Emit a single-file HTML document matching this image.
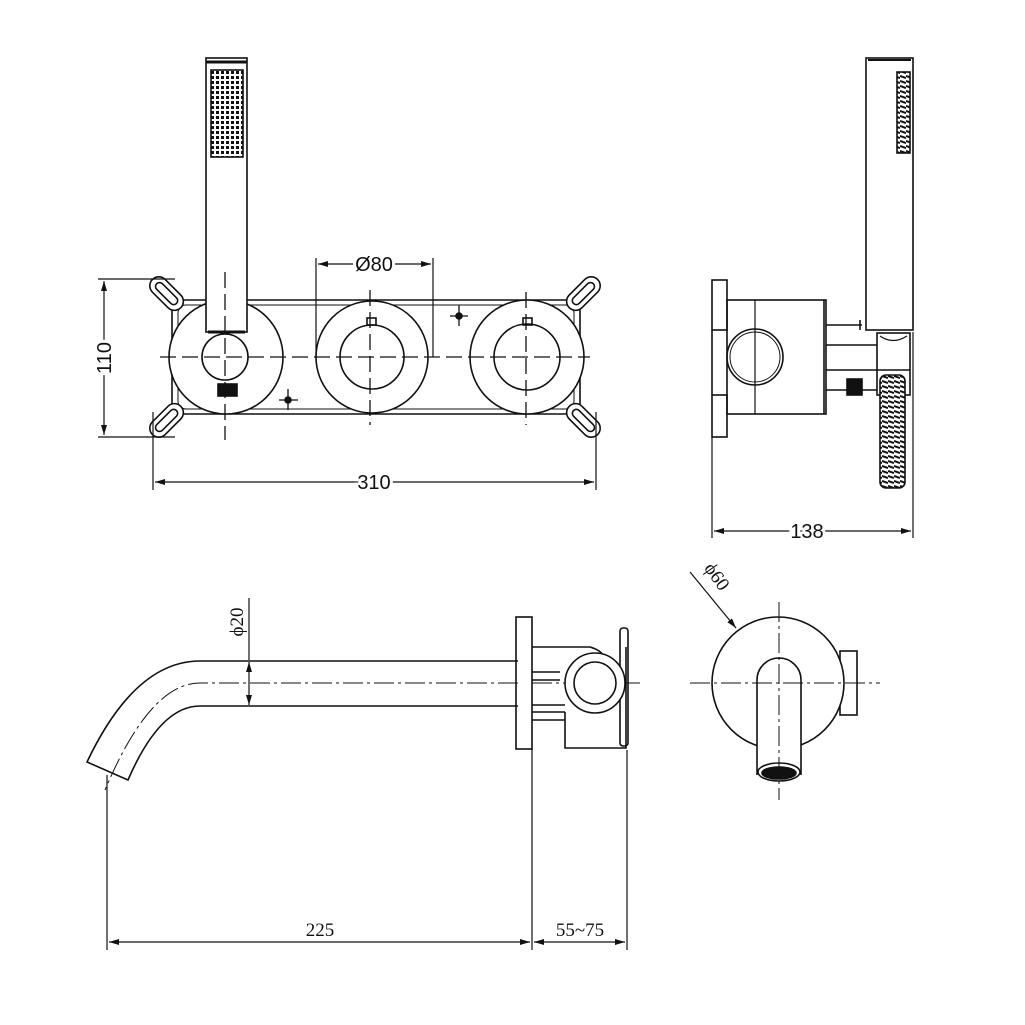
<!DOCTYPE html><html><head><style>body{margin:0;background:#fff}svg{display:block}</style></head><body>
<svg width="1025" height="1025" viewBox="0 0 1025 1025" xmlns="http://www.w3.org/2000/svg">
<defs>
<marker id="a" markerWidth="10" markerHeight="6" refX="10" refY="3" orient="auto-start-reverse" markerUnits="userSpaceOnUse"><path d="M0,0L10,3L0,6z" fill="#111"/></marker>
<pattern id="g" width="5" height="5" patternUnits="userSpaceOnUse"><rect width="5" height="5" fill="#fff"/><rect x="1" y="1" width="3" height="3" fill="#111"/></pattern>
<pattern id="c" width="6" height="5" patternUnits="userSpaceOnUse"><rect width="6" height="5" fill="#fff"/><path d="M0,1L6,3" stroke="#111" stroke-width="2"/></pattern>
</defs>
<g fill="none" stroke="#111" stroke-width="1.6">
<rect x="172" y="300" width="408" height="114" rx="10"/>
<rect x="178" y="305" width="396" height="104" rx="8" stroke-width="1"/>
<g fill="#fff">
<g transform="translate(168,295) rotate(45)"><rect x="-22" y="-9" width="40" height="18" rx="9"/><rect x="-16" y="-4" width="28" height="8" rx="4"/></g>
<g transform="translate(582,295) rotate(-45)"><rect x="-18" y="-9" width="40" height="18" rx="9"/><rect x="-12" y="-4" width="28" height="8" rx="4"/></g>
<g transform="translate(168,419) rotate(-45)"><rect x="-22" y="-9" width="40" height="18" rx="9"/><rect x="-16" y="-4" width="28" height="8" rx="4"/></g>
<g transform="translate(582,419) rotate(45)"><rect x="-18" y="-9" width="40" height="18" rx="9"/><rect x="-12" y="-4" width="28" height="8" rx="4"/></g>
<circle cx="226" cy="357" r="57"/><circle cx="372" cy="357" r="56"/><circle cx="527" cy="357" r="57"/>
</g>
<rect x="206" y="58" width="41" height="274" fill="#fff"/>
<line x1="206" y1="62" x2="247" y2="62" stroke-width="3"/>
<rect x="211" y="70" width="32" height="87" fill="url(#g)"/>
<line x1="208" y1="332" x2="245" y2="332" stroke-width="3"/>
<circle cx="225" cy="357" r="23"/><circle cx="372" cy="357" r="32"/><circle cx="527" cy="357" r="33"/>
<rect x="367" y="318" width="9" height="7"/><rect x="523" y="318" width="9" height="7"/>
<rect x="218" y="384" width="19" height="12" fill="#111"/>
<path d="M160 357H590M225 272V440M370 290V425M526 292V425" stroke-dasharray="16 6" stroke-width="1.3"/>
<path d="M459 305V326M450 316H468M288 389V410M279 400H298" stroke-width="1.3"/>
<circle cx="459" cy="316" r="3" fill="#111"/><circle cx="288" cy="400" r="3" fill="#111"/>
<path d="M316 258V357M433 258V357M153 412V490M596 412V490M98 279H175M98 437H175" stroke-width="1.2"/>
<line x1="318" y1="264" x2="431" y2="264" marker-start="url(#a)" marker-end="url(#a)" stroke-width="1.2"/>
<line x1="155" y1="482" x2="594" y2="482" marker-start="url(#a)" marker-end="url(#a)" stroke-width="1.2"/>
<line x1="104" y1="281" x2="104" y2="435" marker-start="url(#a)" marker-end="url(#a)" stroke-width="1.2"/>
<rect x="712" y="280" width="15" height="50"/><rect x="712" y="395" width="15" height="42"/>
<path d="M712 330V395"/>
<rect x="727" y="300" width="99" height="114"/>
<line x1="824" y1="300" x2="824" y2="414"/>
<circle cx="755" cy="357" r="28"/><circle cx="755" cy="357" r="25" stroke-width="1"/>
<path d="M755 300V414" stroke-width="1.2"/>
<rect x="866" y="58" width="47" height="272"/>
<line x1="868" y1="60" x2="911" y2="60" stroke-width="2"/>
<rect x="897" y="72" width="13" height="81" fill="url(#c)"/>
<path d="M826 325H862M826 345H877M826 370H910M826 390H877M860 320V330"/>
<rect x="877" y="333" width="33" height="62"/>
<path d="M880 336Q893 345 907 336" stroke-width="1.2"/>
<rect x="880" y="375" width="25" height="113" rx="6" fill="url(#c)"/>
<rect x="847" y="379" width="15" height="16" fill="#111"/>
<path d="M712 437V538M913 332V538" stroke-width="1.2"/>
<line x1="714" y1="531" x2="911" y2="531" marker-start="url(#a)" marker-end="url(#a)" stroke-width="1.2"/>
<path d="M518 661H200Q135 661 87 762L128 780Q160 706 200 706H518"/>
<path d="M518 683H200Q150 683 105 790" stroke-width="1" stroke-dasharray="20 4 3 4"/>
<path d="M532 683H640" stroke-width="1" stroke-dasharray="20 4 3 4"/>
<rect x="516" y="617" width="16" height="132"/>
<path d="M532 647H590Q600 650 603 655M532 672H560M532 680H560M532 705H565M532 712H565M532 720H565"/>
<path d="M565 712V748H626V647"/>
<rect x="620" y="628" width="8" height="118" rx="3"/>
<circle cx="595" cy="683" r="30" fill="#fff"/><circle cx="595" cy="683" r="21"/>
<path d="M249 598V660M107 775V950M532 749V950M627 750V950" stroke-width="1.2"/>
<line x1="249" y1="672" x2="249" y2="662" marker-end="url(#a)" stroke-width="1.2"/>
<line x1="249" y1="695" x2="249" y2="705" marker-end="url(#a)" stroke-width="1.2"/>
<line x1="249" y1="672" x2="249" y2="695" stroke-width="1.2"/>
<line x1="109" y1="942" x2="530" y2="942" marker-start="url(#a)" marker-end="url(#a)" stroke-width="1.2"/>
<line x1="534" y1="942" x2="625" y2="942" marker-start="url(#a)" marker-end="url(#a)" stroke-width="1.2"/>
<rect x="840" y="651" width="17" height="64"/>
<circle cx="778" cy="683" r="66" fill="#fff"/>
<path d="M757 775V680A22 22 0 0 1 801 680V775" fill="#fff"/>
<ellipse cx="779" cy="772" rx="21" ry="9" fill="#fff"/>
<ellipse cx="779" cy="773" rx="17" ry="6" fill="#111"/>
<path d="M690 683H880M779 602V800" stroke-width="1" stroke-dasharray="20 4 3 4"/>
<line x1="690" y1="572" x2="736" y2="628" marker-end="url(#a)" stroke-width="1.2"/>
</g>
<g font-family="Liberation Sans, sans-serif" font-size="20" fill="#111" style="paint-order:stroke" stroke="#fff" stroke-width="6">
<text x="374" y="271" text-anchor="middle">Ø80</text>
<text x="374" y="489" text-anchor="middle">310</text>
<text x="807" y="538" text-anchor="middle">138</text>
<text transform="translate(111,358) rotate(-90)" text-anchor="middle">110</text>
</g>
<g font-family="Liberation Serif, serif" font-size="19" fill="#111">
<text x="320" y="936" text-anchor="middle">225</text>
<text x="580" y="936" text-anchor="middle">55~75</text>
<text transform="translate(243,622) rotate(-90)" text-anchor="middle">ϕ20</text>
<text transform="translate(712,580) rotate(55)" text-anchor="middle">ϕ60</text>
</g>
</svg>
</body></html>
